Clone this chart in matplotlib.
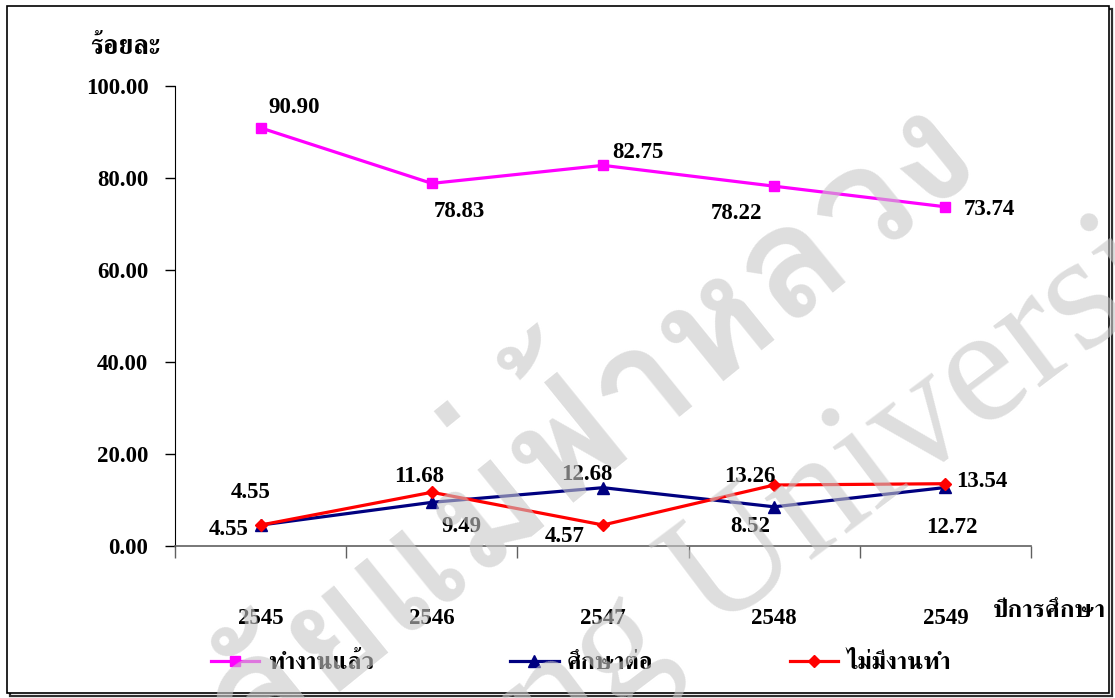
import numpy as np
import matplotlib
matplotlib.use("Agg")
import matplotlib.pyplot as plt
from matplotlib.patches import Rectangle

# -----------------------------
# Data
# -----------------------------
years = ["2545", "2546", "2547", "2548", "2549"]
working = [90.90, 78.83, 82.75, 78.22, 73.74]      # ทำงานแล้ว
studying = [4.55, 9.49, 12.68, 8.52, 12.72]        # ศึกษาต่อ
unemployed = [4.55, 11.68, 4.57, 13.26, 13.54]     # ไม่มีงานทำ
series_names = ["ทำงานแล้ว", "ศึกษาต่อ", "ไม่มีงานทำ"]
y_ticks = [0, 20, 40, 60, 80, 100]

# label offsets in pixels (dx, dy) for each point
off_working = [(34, 20), (28, -28), (35, 13), (-38, -27), (44, -3)]
off_studying = [(-32, -4), (30, -24), (-16, 13), (-24, -20), (6, -40)]
off_unemployed = [(-10, 33), (-13, 16), (-38, -12), (-24, 9), (36, 2)]

W, H = 1115, 698
num_font = ["Liberation Serif", "FreeSerif"]
thai_font = ["FreeSerif", "Liberation Serif"]

fig = plt.figure(figsize=(W / 100, H / 100), dpi=100)

def fx(x):
    return x / W

def fy(y):
    return 1 - y / H

ax = fig.add_axes([fx(175), fy(546), (1031 - 175) / W, (546 - 86) / H])
ax.patch.set_alpha(0)
x = np.arange(len(years)) + 0.5

styles = [
    (working, "#FF00FF", "s", 7, off_working),
    (studying, "#000080", "^", 8, off_studying),
    (unemployed, "#FF0000", "D", 6.5, off_unemployed),
]

handles = []
for (vals, col, mk, ms, offs), name in zip(styles, series_names):
    h, = ax.plot(x, vals, color=col, lw=2.3, marker=mk, ms=ms,
                 markeredgecolor=col, markerfacecolor=col, label=name,
                 clip_on=False, zorder=3)
    handles.append(h)
    for xi, v, (dx, dy) in zip(x, vals, offs):
        ax.annotate(f"{v:.2f}", (xi, v), xytext=(dx, dy),
                    textcoords="offset pixels", ha="center", va="center",
                    fontsize=16.5, fontweight="bold", family=num_font,
                    zorder=4)

ax.set_xlim(0, len(years))
ax.set_ylim(0, 100)
ax.set_yticks(y_ticks, labels=[f"{v:.2f}" for v in y_ticks])
ax.set_xticks(np.arange(len(years) + 1), labels=[])
ax.set_xticks(x, labels=years, minor=True)
ax.tick_params(axis="y", direction="out", length=7.2, width=1,
               pad=12, labelsize=16.5)
ax.tick_params(axis="x", which="major", direction="out", length=8.6,
               width=1, color="#606060")
ax.tick_params(axis="x", which="minor", length=0, pad=45, labelsize=16.5)
for lab in ax.get_yticklabels() + ax.get_xticklabels(minor=True):
    lab.set_fontweight("bold")
    lab.set_family(num_font)

for s in ["top", "right"]:
    ax.spines[s].set_visible(False)
ax.spines["left"].set_color("black")
ax.spines["bottom"].set_color("#606060")
ax.spines["bottom"].set_linewidth(1.2)

# axis titles
fig.text(fx(90), fy(48), "ร้อยละ", ha="left", va="center",
         fontsize=19.5, fontweight="bold", family=thai_font)
fig.text(fx(993), fy(611), "ปีการศึกษา", ha="left", va="center",
         fontsize=18, fontweight="bold", family=thai_font)

# legend
leg = fig.legend(handles=handles, loc="center",
                 bbox_to_anchor=(fx(581), fy(663)), ncol=3, frameon=False,
                 prop={"family": thai_font, "size": 17.5, "weight": "bold"},
                 handlelength=2.0, handletextpad=0.35, columnspacing=5.6)

# watermark
wm_kw = dict(color="#c8c8c8", alpha=0.6, zorder=10, rotation_mode="anchor")
fig.text(fx(950), fy(122), "มหาวิทยาลัยแม่ฟ้าหลวง", ha="right", va="center",
         rotation=39, fontsize=112, fontweight="bold",
         family=["Loma", "FreeSerif"], **wm_kw)
fig.text(fx(555), fy(753), "Mae Fah Luang University", ha="center",
         va="baseline", rotation=37, fontsize=120,
         family=["Liberation Serif"], **wm_kw)

# outer frame with shadow
fig.patches.append(Rectangle((fx(10), fy(696)), fx(1102), (696 - 9) / H,
                             transform=fig.transFigure, fill=False,
                             lw=1.6, edgecolor="#303030", zorder=-2))
fig.patches.append(Rectangle((fx(7), fy(693)), fx(1102), (693 - 6) / H,
                             transform=fig.transFigure, facecolor="white",
                             lw=1.2, edgecolor="black", zorder=-1))

fig.savefig("out.png", dpi=100)
